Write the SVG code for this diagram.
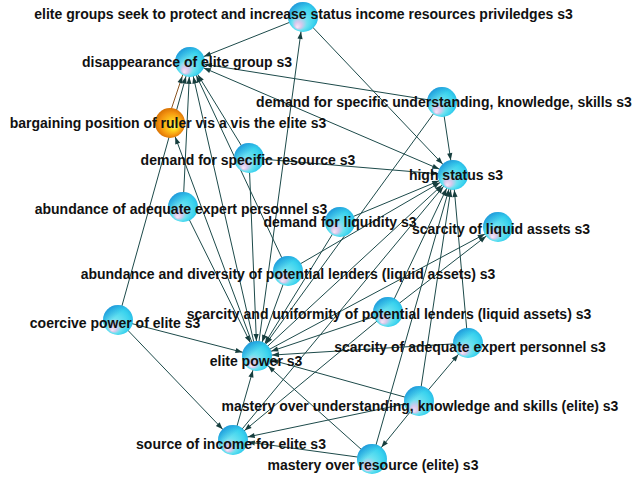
<svg xmlns="http://www.w3.org/2000/svg" width="640" height="480" viewBox="0 0 640 480">
<defs>
<radialGradient id="gb" cx="0.5" cy="0.5" r="0.55" fx="0.3" fy="0.85">
<stop offset="0" stop-color="#f8e8f6"/>
<stop offset="0.2" stop-color="#d8c8ec"/>
<stop offset="0.45" stop-color="#6ce2f0"/>
<stop offset="0.8" stop-color="#38d2ee"/>
<stop offset="1" stop-color="#26b4e4"/>
</radialGradient>
<linearGradient id="gs" x1="0.1" y1="0.05" x2="0.8" y2="0.85">
<stop offset="0" stop-color="#1a7cd0" stop-opacity="0.7"/>
<stop offset="0.45" stop-color="#1a7cd0" stop-opacity="0"/>
</linearGradient>
<radialGradient id="go" cx="0.5" cy="0.5" r="0.55" fx="0.68" fy="0.62">
<stop offset="0" stop-color="#ffff70"/>
<stop offset="0.3" stop-color="#ffd420"/>
<stop offset="0.7" stop-color="#f49410"/>
<stop offset="1" stop-color="#d06800"/>
</radialGradient>
<marker id="a" markerUnits="userSpaceOnUse" markerWidth="26" markerHeight="10" viewBox="0 -5 26 10" refX="26" refY="0" orient="auto">
<path d="M4,-2.6 L11,0 L4,2.6 z" fill="#163e3e"/>
</marker>
<marker id="s" markerUnits="userSpaceOnUse" markerWidth="26" markerHeight="10" viewBox="0 -5 26 10" refX="26" refY="0" orient="auto-start-reverse">
<path d="M4,-2.6 L11,0 L4,2.6 z" fill="#163e3e"/>
</marker>
</defs>
<style>
.e{stroke:#1c4a4a;stroke-width:1;fill:none;marker-end:url(#a)}
.b{marker-start:url(#s)}
.o{stroke:#8a5420}
.ball{fill:url(#gb)}
.sh{fill:url(#gs)}
.orb{fill:url(#go)}
text{font-family:"Liberation Sans",Arial,Helvetica,sans-serif;font-weight:bold;font-size:14px;fill:#111;text-anchor:middle}
</style>
<rect width="640" height="480" fill="#fff"/>
<g id="connectors">
<line class="e" x1="303" y1="17" x2="190" y2="62"/>
<line class="e" x1="303" y1="17" x2="453" y2="175"/>
<line class="e" x1="257" y1="356" x2="303" y2="17"/>
<line class="e" x1="442" y1="102" x2="190" y2="62"/>
<line class="e b" x1="453" y1="175" x2="190" y2="62"/>
<line class="e" x1="442" y1="102" x2="453" y2="175"/>
<line class="e" x1="442" y1="102" x2="257" y2="356"/>
<line class="e" x1="118" y1="320" x2="190" y2="62"/>
<line class="e o" x1="167" y1="122" x2="187" y2="62"/>
<line class="e" x1="257" y1="356" x2="170" y2="123"/>
<line class="e" x1="183" y1="207" x2="190" y2="62"/>
<line class="e" x1="183" y1="207" x2="257" y2="356"/>
<line class="e" x1="257" y1="356" x2="190" y2="62"/>
<line class="e" x1="288" y1="271" x2="190" y2="62"/>
<line class="e" x1="249" y1="158" x2="190" y2="62"/>
<line class="e" x1="249" y1="158" x2="257" y2="356"/>
<line class="e" x1="249" y1="158" x2="453" y2="175"/>
<line class="e" x1="340" y1="222" x2="453" y2="175"/>
<line class="e" x1="340" y1="222" x2="257" y2="356"/>
<line class="e" x1="288" y1="271" x2="257" y2="356"/>
<line class="e" x1="288" y1="271" x2="453" y2="175"/>
<line class="e" x1="118" y1="320" x2="257" y2="356"/>
<line class="e" x1="118" y1="320" x2="233" y2="440"/>
<line class="e" x1="233" y1="440" x2="257" y2="356"/>
<line class="e" x1="233" y1="440" x2="453" y2="175"/>
<line class="e" x1="257" y1="356" x2="453" y2="175"/>
<line class="e" x1="388" y1="312" x2="257" y2="356"/>
<line class="e" x1="388" y1="312" x2="453" y2="175"/>
<line class="e" x1="388" y1="312" x2="498" y2="227"/>
<line class="e" x1="257" y1="356" x2="498" y2="227"/>
<line class="e" x1="388" y1="312" x2="233" y2="440"/>
<line class="e" x1="468" y1="343" x2="257" y2="356"/>
<line class="e" x1="468" y1="343" x2="453" y2="175"/>
<line class="e" x1="419" y1="401" x2="257" y2="356"/>
<line class="e" x1="419" y1="401" x2="453" y2="175"/>
<line class="e" x1="419" y1="401" x2="468" y2="343"/>
<line class="e" x1="419" y1="401" x2="372" y2="459"/>
<line class="e" x1="419" y1="401" x2="233" y2="440"/>
<line class="e" x1="372" y1="459" x2="257" y2="356"/>
<line class="e" x1="372" y1="459" x2="453" y2="175"/>
<line class="e" x1="372" y1="459" x2="233" y2="440"/>
</g>
<g id="n1"><circle class="ball" cx="303" cy="17" r="15"/><circle class="sh" cx="303" cy="17" r="15"/><text x="303.5" y="19">elite groups seek to protect and increase status income resources priviledges s3</text></g>
<g id="n2"><circle class="ball" cx="190" cy="62" r="15"/><circle class="sh" cx="190" cy="62" r="15"/><text x="187" y="67">disappearance of elite group s3</text></g>
<g id="n3"><circle class="orb" cx="170" cy="123" r="15"/><text x="168" y="128">bargaining position of ruler vis a vis the elite s3</text></g>
<g id="n4"><circle class="ball" cx="442" cy="102" r="15"/><circle class="sh" cx="442" cy="102" r="15"/><text x="444" y="107">demand for specific understanding, knowledge, skills s3</text></g>
<g id="n5"><circle class="ball" cx="249" cy="158" r="15"/><circle class="sh" cx="249" cy="158" r="15"/><text x="248" y="165">demand for specific resource s3</text></g>
<g id="n6"><circle class="ball" cx="453" cy="175" r="15"/><circle class="sh" cx="453" cy="175" r="15"/><text x="456" y="180">high status s3</text></g>
<g id="n7"><circle class="ball" cx="183" cy="207" r="15"/><circle class="sh" cx="183" cy="207" r="15"/><text x="181" y="214">abundance of adequate expert personnel s3</text></g>
<g id="n8"><circle class="ball" cx="340" cy="222" r="15"/><circle class="sh" cx="340" cy="222" r="15"/><text x="340" y="227">demand for liquidity s3</text></g>
<g id="n9"><circle class="ball" cx="498" cy="227" r="15"/><circle class="sh" cx="498" cy="227" r="15"/><text x="501" y="234">scarcity of liquid assets s3</text></g>
<g id="n10"><circle class="ball" cx="288" cy="271" r="15"/><circle class="sh" cx="288" cy="271" r="15"/><text x="288" y="279">abundance and diversity of potential lenders (liquid assets) s3</text></g>
<g id="n11"><circle class="ball" cx="118" cy="320" r="15"/><circle class="sh" cx="118" cy="320" r="15"/><text x="115" y="328">coercive power of elite s3</text></g>
<g id="n12"><circle class="ball" cx="388" cy="312" r="15"/><circle class="sh" cx="388" cy="312" r="15"/><text x="389" y="319">scarcity and uniformity of potential lenders (liquid assets) s3</text></g>
<g id="n13"><circle class="ball" cx="468" cy="343" r="15"/><circle class="sh" cx="468" cy="343" r="15"/><text x="470" y="352">scarcity of adequate expert personnel s3</text></g>
<g id="n14"><circle class="ball" cx="257" cy="356" r="15"/><circle class="sh" cx="257" cy="356" r="15"/><text x="256" y="366">elite power s3</text></g>
<g id="n15"><circle class="ball" cx="419" cy="401" r="15"/><circle class="sh" cx="419" cy="401" r="15"/><text x="420" y="411">mastery over understanding, knowledge and skills (elite) s3</text></g>
<g id="n16"><circle class="ball" cx="233" cy="440" r="15"/><circle class="sh" cx="233" cy="440" r="15"/><text x="231" y="449">source of income for elite s3</text></g>
<g id="n17"><circle class="ball" cx="372" cy="459" r="15"/><circle class="sh" cx="372" cy="459" r="15"/><text x="373" y="470">mastery over resource (elite) s3</text></g>
</svg>
